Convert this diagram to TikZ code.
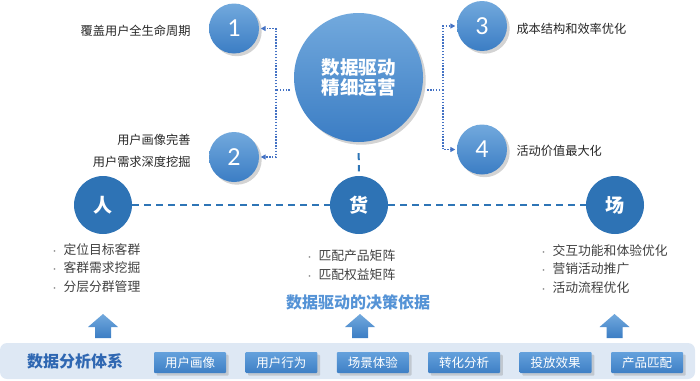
\documentclass[tikz,border=0pt]{standalone}
\usepackage{fontspec}
\setmainfont{Noto Sans CJK SC}
\newfontfamily\digitfont{Carlito}
\usetikzlibrary{arrows.meta,calc,positioning,shadows}
\definecolor{HubTop}{HTML}{72A9DD}
\definecolor{HubBot}{HTML}{3B7DC4}
\definecolor{Pillar}{HTML}{2E73B5}
\definecolor{DotBlue}{HTML}{4472C4}
\definecolor{DashBlue}{HTML}{2E75B6}
\definecolor{BandFill}{HTML}{DEE8F4}
\definecolor{TagTop}{HTML}{64A1DC}
\definecolor{TagBot}{HTML}{3E7FC5}
\definecolor{TitleBlue}{HTML}{5593D6}
\definecolor{SysBlue}{HTML}{2F67B2}
\definecolor{LabelInk}{HTML}{262626}
\definecolor{ListInk}{HTML}{404040}
\definecolor{BulletGray}{HTML}{7F7F7F}
\newcommand{\bul}{\makebox[13pt][l]{\color{BulletGray}\fontsize{8}{8}\selectfont •}}
\tikzset{
  hubnode/.style={
    circle, minimum size=129pt, inner sep=0pt, top color=HubTop, bottom color=HubBot,
    drop shadow={opacity=0.35}, text=white, align=center,
    font=\bfseries\fontsize{18.5}{20}\selectfont
  },
  numball/.style={
    circle, minimum size=50pt, inner sep=0pt, top color=HubTop, bottom color=HubBot,
    drop shadow={opacity=0.35}, text=white, font=\digitfont\fontsize{26}{26}\selectfont
  },
  pillar/.style={
    circle, fill=Pillar, minimum size=58pt, inner sep=0pt, text=white,
    font=\bfseries\fontsize{19}{19}\selectfont
  },
  sidelabel/.style={text=LabelInk, font=\fontsize{12.2}{22}\selectfont},
  bulletlist/.style={text=ListInk, align=left, anchor=west, font=\fontsize{12.8}{18.5}\selectfont},
  tag/.style={
    rounded corners=1pt, minimum width=72pt, minimum height=21pt, inner sep=0pt,
    top color=TagTop, bottom color=TagBot, drop shadow={opacity=0.3},
    text=white, font=\fontsize{12.5}{12.5}\selectfont
  },
  dotline/.style={draw=DotBlue, line width=1.4pt, dash pattern=on 1.4pt off 1.5pt},
  dotflow/.style={dotline, -{Triangle[length=5pt,width=5pt]}, shorten >=1.5pt},
  dashline/.style={draw=DashBlue, line width=2pt, dash pattern=on 7pt off 5pt},
  uparrow/.style={top color=HubTop, bottom color=HubBot, draw=none}
}
\begin{document}
\begin{tikzpicture}[x=1pt,y=-1pt,node distance=19pt]
  \useasboundingbox (0,0) rectangle (700,380);
  % hub and its four goals
  \node[hubnode] (hub) at (358.5,77.5) {数据驱动\\精细运营};
  \node[numball] (one) at (234,28.5) {1};
  \node[numball] (two) at (234,157) {2};
  \node[numball] (three) at (482,26) {3};
  \node[numball] (four) at (482,149.5) {4};
  \node[sidelabel,anchor=east] (oneText) at (194,31) {覆盖用户全生命周期};
  \node[sidelabel,anchor=east,align=right] (twoText) at (194,151) {用户画像完善\\用户需求深度挖掘};
  \node[sidelabel,anchor=west] (threeText) at (513,29) {成本结构和效率优化};
  \node[sidelabel,anchor=west] (fourText) at (513,151) {活动价值最大化};
  \coordinate (busL) at (276,90);
  \coordinate (busR) at (443,90);
  \draw[dotline] ([xshift=-4pt]hub.west |- busL) -- (busL);
  \draw[dotflow] (busL) |- (one.east);
  \draw[dotflow] (busL) |- (two.east);
  \draw[dotline] ([xshift=4pt]hub.east |- busR) -- (busR);
  \draw[dotflow] (busR) |- (three.west);
  \draw[dotflow] (busR) |- (four.west);
  % people, goods, place
  \node[pillar] (ren) at (103,205) {人};
  \node[pillar] (huo) at (359,205) {货};
  \node[pillar] (chang) at (615,205) {场};
  \draw[dashline] (ren) -- (huo);
  \draw[dashline] (huo) -- (chang);
  \draw[dashline,shorten <=11pt,shorten >=4.5pt] (hub.south) -- (huo.north);
  \node[bulletlist] (renList) at (47,268) {\bul{}定位目标客群\\\bul{}客群需求挖掘\\\bul{}分层分群管理};
  \node[bulletlist] (huoList) at (302,265) {\bul{}匹配产品矩阵\\\bul{}匹配权益矩阵};
  \node[bulletlist] (changList) at (536,269) {\bul{}交互功能和体验优化\\\bul{}营销活动推广\\\bul{}活动流程优化};
  \node[text=TitleBlue,font=\bfseries\fontsize{16}{16}\selectfont] (basis) at (358,302) {数据驱动的决策依据};
  % analysis band
  \fill[BandFill,rounded corners=7pt] (0,343) rectangle (695,379);
  \node[text=SysBlue,font=\bfseries\fontsize{16}{16}\selectfont] (system) at (75,361) {数据分析体系};
  \node[tag] (portrait) at (190,362.5) {用户画像};
  \node[tag,right=of portrait] (behavior) {用户行为};
  \node[tag,right=of behavior] (scene) {场景体验};
  \node[tag,right=of scene] (convert) {转化分析};
  \node[tag,right=of convert] (delivery) {投放效果};
  \node[tag,right=of delivery] (match) {产品匹配};
  \foreach \ax in {103,360,614.5}
    \shade[uparrow] (\ax-8,338) -- (\ax-8,327) -- (\ax-15,327) -- (\ax,314)
      -- (\ax+15,327) -- (\ax+8,327) -- (\ax+8,338) -- cycle;
\end{tikzpicture}
\end{document}
